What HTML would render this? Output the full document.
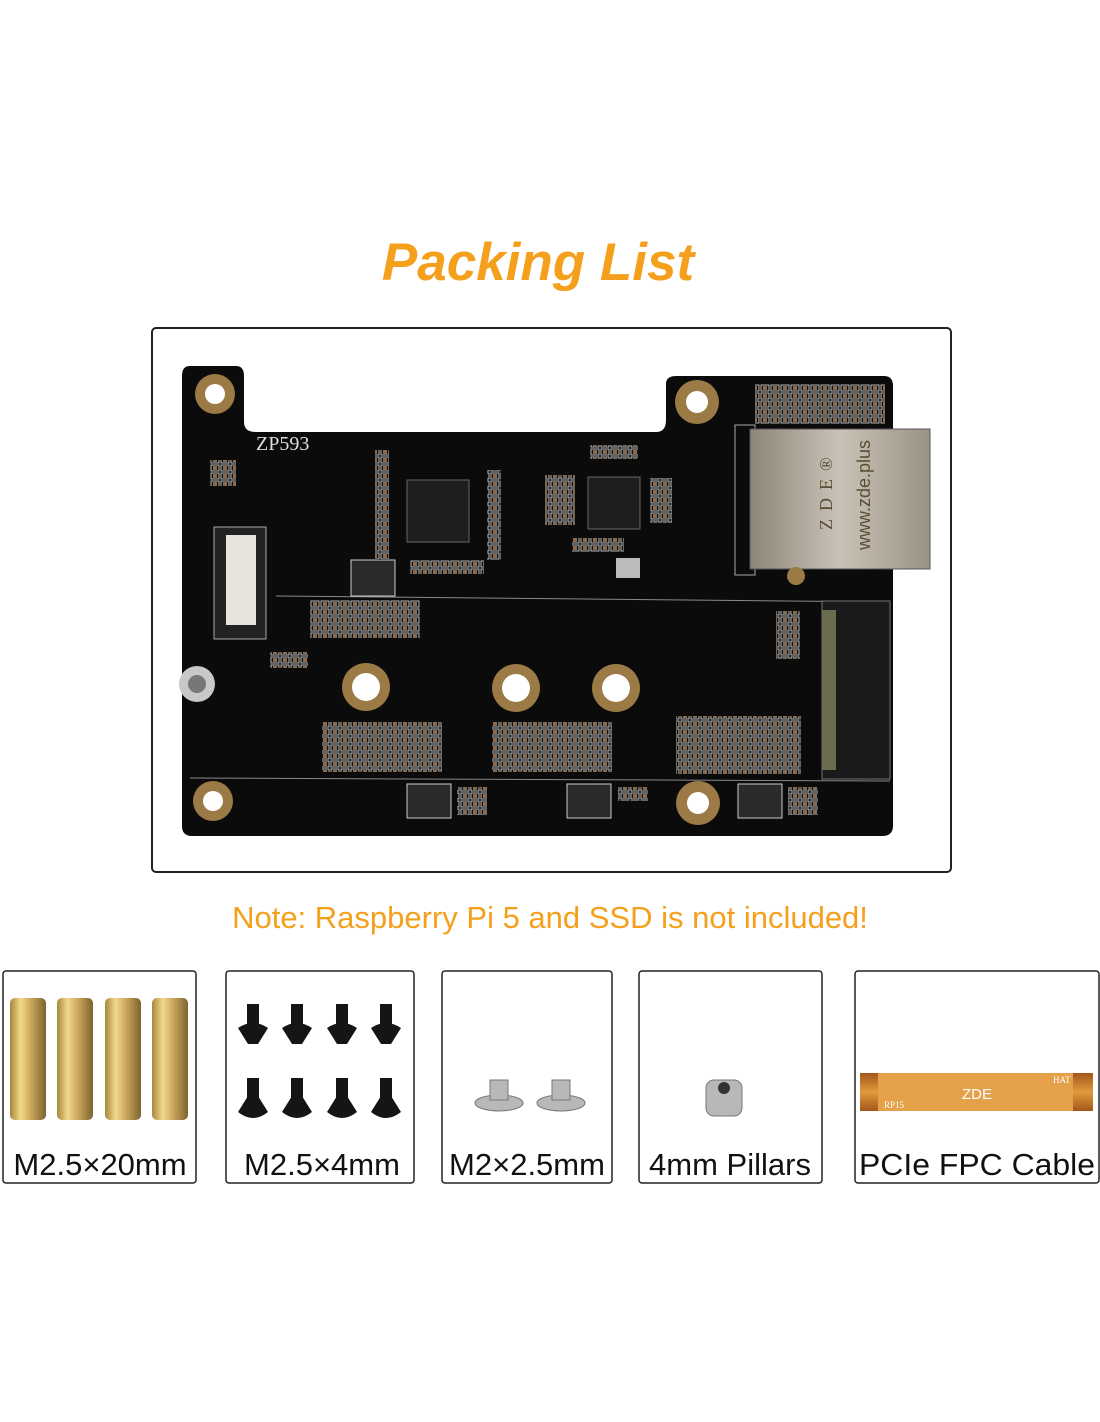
<!DOCTYPE html>
<html><head><meta charset="utf-8"><style>
html,body{margin:0;padding:0;background:#fff;}
body{width:1100px;height:1422px;position:relative;overflow:hidden;font-family:"Liberation Sans",sans-serif;}
</style></head><body>
<svg width="1100" height="1422" viewBox="0 0 1100 1422" xmlns="http://www.w3.org/2000/svg" style="position:absolute;left:0;top:0">
<defs>
<linearGradient id="gold" x1="0" x2="1"><stop offset="0" stop-color="#a8873e"/><stop offset=".3" stop-color="#f3d98a"/><stop offset=".6" stop-color="#c9a45a"/><stop offset="1" stop-color="#7d6330"/></linearGradient>
<linearGradient id="silver" x1="0" x2="1"><stop offset="0" stop-color="#8d8578"/><stop offset=".5" stop-color="#c9c2b6"/><stop offset="1" stop-color="#9a9384"/></linearGradient>
<linearGradient id="fpc" x1="0" y1="0" x2="0" y2="1"><stop offset="0" stop-color="#a2561b"/><stop offset=".5" stop-color="#e29a3c"/><stop offset="1" stop-color="#a2561b"/></linearGradient>
<pattern id="pads" width="10" height="8" patternUnits="userSpaceOnUse"><rect width="10" height="8" fill="#111"/><rect x="1" y="1" width="8" height="6" fill="none" stroke="#ddd" stroke-width="0.8"/><rect x="3" y="2" width="4" height="4" fill="#8a6a4a"/></pattern>
</defs>
<text x="538" y="280" text-anchor="middle" font-family="Liberation Sans" font-weight="bold" font-style="italic" font-size="53" fill="#f5a01c">Packing List</text>
<rect x="152" y="328" width="799" height="544" rx="4" fill="#fff" stroke="#222" stroke-width="2"/>
<path d="M190,366 H236 Q244,366 244,376 V422 Q244,432 256,432 H656 Q666,432 666,420 V384 Q666,376 676,376 H884 Q893,376 893,386 V826 Q893,836 882,836 H192 Q182,836 182,826 V376 Q182,366 190,366 Z" fill="#0b0b0c"/>
<line x1="276" y1="596" x2="890" y2="602" stroke="#8a8a8a" stroke-width="1"/>
<line x1="190" y1="778" x2="890" y2="781" stroke="#8a8a8a" stroke-width="1"/>
<g fill="#9c7a45">
<circle cx="215" cy="394" r="20"/><circle cx="697" cy="402" r="22"/><circle cx="366" cy="687" r="24"/><circle cx="516" cy="688" r="24"/><circle cx="616" cy="688" r="24"/><circle cx="213" cy="801" r="20"/><circle cx="698" cy="803" r="22"/>
</g>
<g fill="#fff">
<circle cx="215" cy="394" r="10"/><circle cx="697" cy="402" r="11"/><circle cx="366" cy="687" r="14"/><circle cx="516" cy="688" r="14"/><circle cx="616" cy="688" r="14"/><circle cx="213" cy="801" r="10"/><circle cx="698" cy="803" r="11"/>
</g>
<circle cx="197" cy="684" r="18" fill="#c8c8c8"/><circle cx="197" cy="684" r="9" fill="#777"/>
<text x="256" y="450" font-family="Liberation Serif" font-size="20" fill="#ddd">ZP593</text>
<rect x="735" y="425" width="20" height="150" fill="none" stroke="#aaa" stroke-width="1"/>
<rect x="750" y="429" width="180" height="140" fill="url(#silver)" stroke="#555"/>
<text transform="translate(832,530) rotate(-90)" font-family="Liberation Serif" font-size="18" fill="#5a4d33" letter-spacing="8">ZDE®</text>
<text transform="translate(870,550) rotate(-90)" font-family="Liberation Sans" font-size="18" fill="#5a4d33">www.zde.plus</text>
<circle cx="796" cy="576" r="9" fill="#9c7a45"/>
<rect x="407" y="480" width="62" height="62" fill="#1e1e1e" stroke="#666"/>
<rect x="588" y="477" width="52" height="52" fill="#1e1e1e" stroke="#666"/>
<rect x="616" y="558" width="24" height="20" fill="#bbb"/>
<rect x="214" y="527" width="52" height="112" fill="#222" stroke="#aaa"/>
<rect x="226" y="535" width="30" height="90" fill="#e8e4dc"/>
<rect x="822" y="601" width="68" height="178" fill="#1a1a1a" stroke="#777"/>
<rect x="822" y="610" width="14" height="160" fill="#6b6b4e"/>
<g fill="#2a2a2a" stroke="#ccc">
<rect x="351" y="560" width="44" height="36"/><rect x="407" y="784" width="44" height="34"/><rect x="567" y="784" width="44" height="34"/><rect x="738" y="784" width="44" height="34"/>
</g>
<g fill="url(#pads)">
<rect x="375" y="450" width="14" height="110"/><rect x="487" y="470" width="14" height="90"/>
<rect x="410" y="560" width="74" height="14"/><rect x="572" y="538" width="52" height="14"/>
<rect x="590" y="445" width="48" height="14"/><rect x="545" y="475" width="30" height="50"/>
<rect x="310" y="600" width="110" height="38"/><rect x="322" y="722" width="120" height="50"/>
<rect x="492" y="722" width="120" height="50"/><rect x="676" y="716" width="125" height="58"/>
<rect x="776" y="611" width="24" height="48"/><rect x="457" y="787" width="30" height="28"/>
<rect x="618" y="787" width="30" height="14"/><rect x="788" y="787" width="30" height="28"/>
<rect x="755" y="384" width="130" height="40"/><rect x="210" y="460" width="26" height="26"/>
<rect x="270" y="652" width="38" height="16"/><rect x="650" y="478" width="22" height="45"/>
</g>
<text x="550" y="928" text-anchor="middle" font-family="Liberation Sans" font-size="31" fill="#f5a01c">Note: Raspberry Pi 5 and SSD is not included!</text>
<g fill="#fff" stroke="#222" stroke-width="1.5">
<rect x="3" y="971" width="193" height="212" rx="3"/><rect x="226" y="971" width="188" height="212" rx="3"/>
<rect x="442" y="971" width="170" height="212" rx="3"/><rect x="639" y="971" width="183" height="212" rx="3"/>
<rect x="855" y="971" width="244" height="212" rx="3"/>
</g>
<g fill="url(#gold)">
<rect x="10" y="998" width="36" height="122" rx="5"/><rect x="57" y="998" width="36" height="122" rx="5"/><rect x="105" y="998" width="36" height="122" rx="5"/><rect x="152" y="998" width="36" height="122" rx="5"/>
</g>
<g fill="#151515">
<path d="M238,1028 Q253,1018 268,1028 L258,1044 L248,1044 Z"/><path d="M282,1028 Q297,1018 312,1028 L302,1044 L292,1044 Z"/><path d="M327,1028 Q342,1018 357,1028 L347,1044 L337,1044 Z"/><path d="M371,1028 Q386,1018 401,1028 L391,1044 L381,1044 Z"/>
<rect x="247" y="1004" width="12" height="20"/><rect x="291" y="1004" width="12" height="20"/><rect x="336" y="1004" width="12" height="20"/><rect x="380" y="1004" width="12" height="20"/>
<path d="M238,1112 Q253,1124 268,1112 L258,1096 L248,1096 Z"/><path d="M282,1112 Q297,1124 312,1112 L302,1096 L292,1096 Z"/><path d="M327,1112 Q342,1124 357,1112 L347,1096 L337,1096 Z"/><path d="M371,1112 Q386,1124 401,1112 L391,1096 L381,1096 Z"/>
<rect x="247" y="1078" width="12" height="22"/><rect x="291" y="1078" width="12" height="22"/><rect x="336" y="1078" width="12" height="22"/><rect x="380" y="1078" width="12" height="22"/>
</g>
<g fill="#b8b8b8" stroke="#777">
<ellipse cx="499" cy="1103" rx="24" ry="8"/><rect x="490" y="1080" width="18" height="20"/>
<ellipse cx="561" cy="1103" rx="24" ry="8"/><rect x="552" y="1080" width="18" height="20"/>
<rect x="706" y="1080" width="36" height="36" rx="8"/>
</g>
<circle cx="724" cy="1088" r="6" fill="#333"/>
<rect x="860" y="1073" width="233" height="38" fill="url(#fpc)"/>
<rect x="878" y="1073" width="195" height="38" fill="#e5a04a"/>
<text x="977" y="1099" text-anchor="middle" font-size="15" fill="#fff">ZDE</text>
<text x="884" y="1108" font-family="Liberation Serif" font-size="9" fill="#fff">RP15</text>
<text x="1053" y="1083" font-family="Liberation Serif" font-size="9" fill="#fff">HAT</text>
<g font-family="Liberation Sans" font-size="31" fill="#111" text-anchor="middle">
<text x="100" y="1175">M2.5×20mm</text><text x="322" y="1175">M2.5×4mm</text><text x="527" y="1175">M2×2.5mm</text><text x="730" y="1175">4mm Pillars</text><text x="977" y="1175" textLength="236" lengthAdjust="spacingAndGlyphs">PCIe FPC Cable</text>
</g>
</svg>
</body></html>
